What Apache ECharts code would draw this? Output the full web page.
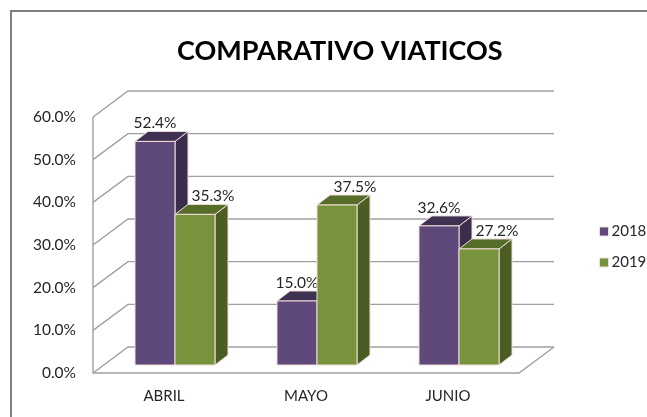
<!DOCTYPE html>
<html>
<head>
<meta charset="utf-8">
<script src="https://cdn.jsdelivr.net/npm/echarts@6/dist/echarts.min.js"></script>
<style>
  html, body { margin: 0; padding: 0; background: #fff; }
  #main { width: 647px; height: 417px; }
</style>
</head>
<body>
<div id="main"></div>
<script>
var months = ['ABRIL', 'MAYO', 'JUNIO'];
var years = ['2018', '2019'];
var values2018 = [0.524, 0.150, 0.326];
var values2019 = [0.353, 0.375, 0.272];
var yTicks = [0, 0.1, 0.2, 0.3, 0.4, 0.5, 0.6];

// oblique "3D" look
var DEPTH_X = 35, DEPTH_Y = -26;   // floor / wall depth
var BAR_X0 = 11, BAR_Y0 = -8;      // front face of bars
var BAR_DX = 13, BAR_DY = -10;     // bar depth
var BAR_W = 40;

var faces = {
  '2018': { front: '#5f497a', top: '#3f3151', side: '#3b2d4c' },
  '2019': { front: '#77933c', top: '#566d2a', side: '#4a5d23' }
};
var labelShift = { '2018': 0, '2019': 18 };

function pct(v) { return (v * 100).toFixed(1) + '%'; }

function renderWall(params, api) {
  var v = api.value(1);
  var bw = api.size([1, 0])[0];
  var p = api.coord([0, v]);
  var x0 = p[0] - bw / 2;
  var x1 = x0 + bw * months.length;
  var y = p[1];
  var st = { stroke: '#a0a0a0', lineWidth: 1.4, fill: null };
  var kids = [{
    type: 'polyline',
    shape: { points: [[x0, y], [x0 + DEPTH_X, y + DEPTH_Y], [x1 + DEPTH_X, y + DEPTH_Y]] },
    style: st
  }];
  if (v === 0) {
    var top = api.coord([0, yTicks[yTicks.length - 1]])[1];
    kids.push({
      type: 'polyline',
      shape: { points: [[x0, top], [x0, y], [x1, y], [x1 + DEPTH_X, y + DEPTH_Y]] },
      style: st
    });
  }
  return { type: 'group', children: kids };
}

function makeBarRender(year, side) {
  return function (params, api) {
    var cat = api.value(0);
    var v = api.value(1);
    var base = api.coord([cat, 0]);
    var topP = api.coord([cat, v]);
    var xl = base[0] + BAR_X0 + (side < 0 ? -BAR_W : 0);
    var xr = xl + BAR_W;
    var yb = base[1] + BAR_Y0;
    var yt = topP[1] + BAR_Y0;
    var c = faces[year];
    var edge = { stroke: '#f2dcdb', lineWidth: 1 };
    return {
      type: 'group',
      children: [
        { type: 'polygon', shape: { points: [[xr, yt], [xr + BAR_DX, yt + BAR_DY], [xr + BAR_DX, yb + BAR_DY], [xr, yb]] },
          style: Object.assign({ fill: c.side }, edge) },
        { type: 'polygon', shape: { points: [[xl, yt], [xl + BAR_DX, yt + BAR_DY], [xr + BAR_DX, yt + BAR_DY], [xr, yt]] },
          style: Object.assign({ fill: c.top }, edge) },
        { type: 'rect', shape: { x: xl, y: yt, width: BAR_W, height: yb - yt },
          style: Object.assign({ fill: c.front }, edge) },
        { type: 'text', x: (xl + xr) / 2 + labelShift[year], y: yt - 18,
          style: { text: pct(v), fill: '#262626', font: '15.5px Lato', align: 'center', verticalAlign: 'middle' } }
      ]
    };
  };
}

var chart = echarts.init(document.getElementById('main'));
chart.setOption({
  animation: false,
  backgroundColor: '#fff',
  textStyle: { fontFamily: 'Lato' },
  graphic: [{
    type: 'rect', silent: true,
    shape: { x: 11, y: 11, width: 660, height: 430 },
    style: { fill: '#fff', stroke: '#808080', lineWidth: 2 }, z: -10
  }],
  title: {
    text: 'COMPARATIVO VIATICOS',
    left: 172, top: 33,
    textStyle: { fontFamily: 'Lato', fontWeight: 'bold', fontSize: 27, color: '#000' }
  },
  legend: {
    data: years,
    orient: 'vertical',
    left: 594, top: 219,
    icon: 'rect',
    itemWidth: 9, itemHeight: 9, itemGap: 16,
    textStyle: { fontFamily: 'Lato', fontSize: 15, color: '#262626', padding: [0, 0, 0, -2] },
    itemStyle: { borderColor: '#f2dcdb', borderWidth: 1 }
  },
  grid: { left: 93, top: 117, width: 426, height: 256 },
  xAxis: {
    type: 'category',
    data: months,
    axisLine: { show: false },
    axisTick: { show: false },
    axisLabel: { margin: 16, fontSize: 15, color: '#262626', fontFamily: 'Lato' }
  },
  yAxis: {
    type: 'value',
    min: 0, max: 0.6, interval: 0.1,
    axisLine: { show: false },
    axisTick: { show: false },
    splitLine: { show: false },
    axisLabel: { margin: 17, fontSize: 15.5, color: '#262626', fontFamily: 'Lato', formatter: pct }
  },
  series: [
    {
      type: 'custom', name: 'walls', silent: true, z: 1,
      renderItem: renderWall,
      data: yTicks.map(function (t) { return [0, t]; })
    },
    {
      type: 'custom', name: '2018', z: 2,
      itemStyle: { color: faces['2018'].front },
      renderItem: makeBarRender('2018', -1),
      data: values2018.map(function (v, i) { return [i, v]; })
    },
    {
      type: 'custom', name: '2019', z: 3,
      itemStyle: { color: faces['2019'].front },
      renderItem: makeBarRender('2019', 1),
      data: values2019.map(function (v, i) { return [i, v]; })
    }
  ]
});
</script>
</body>
</html>
